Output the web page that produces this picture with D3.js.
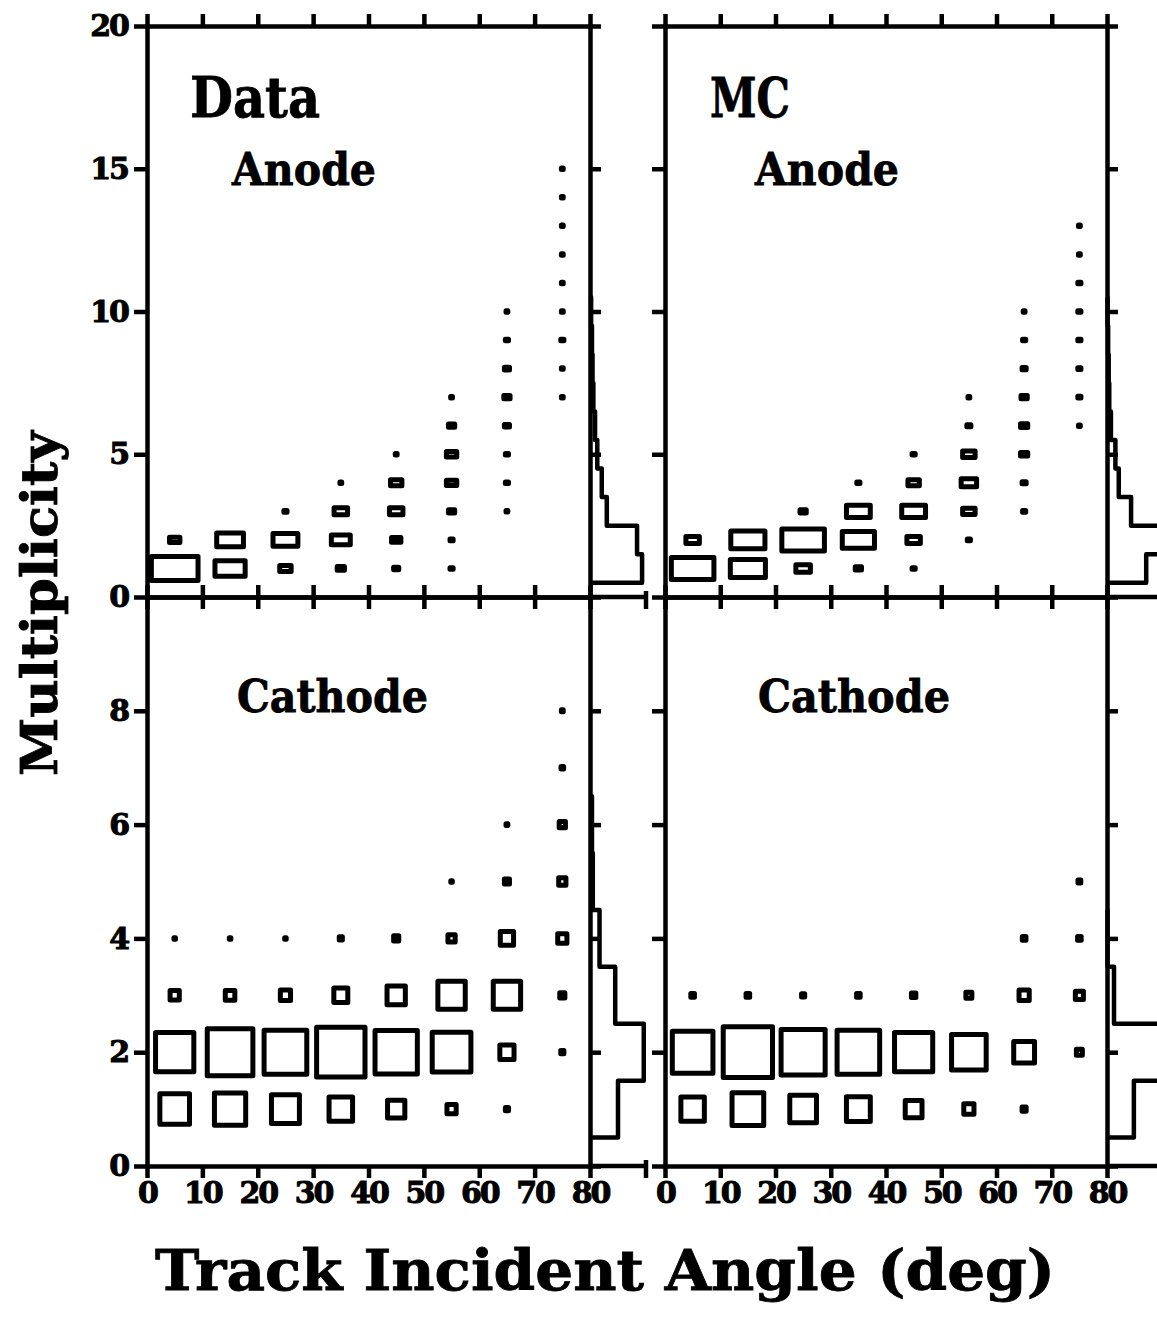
<!DOCTYPE html>
<html>
<head>
<meta charset="utf-8">
<script src="https://cdn.jsdelivr.net/npm/d3@7"></script>
<style>
  body { margin: 0; background: #fff; }
  svg { display: block; }
  text { font-family: "DejaVu Serif", serif; font-weight: bold; fill: #000; }
</style>
</head>
<body>
<svg id="chart" width="1157" height="1321"></svg>
<script>
// tick values
const angleTicks = [0, 10, 20, 30, 40, 50, 60, 70, 80];
const anodeTicks = [0, 5, 10, 15, 20];
const cathodeTicks = [0, 2, 4, 6, 8];

// cells: [angle bin centre (deg), multiplicity, content] - box area ~ content
const dataAnode = [
  [5, 1, 67], [5, 2, 3.3],
  [15, 1, 28], [15, 2, 22],
  [25, 1, 4], [25, 2, 19], [25, 3, 0.3],
  [35, 1, 1.6], [35, 2, 11], [35, 3, 5.6], [35, 4, 0.1],
  [45, 1, 0.8], [45, 2, 2.7], [45, 3, 5.6], [45, 4, 4], [45, 5, 0.1],
  [55, 1, 0.3], [55, 2, 0.3], [55, 3, 1.2], [55, 4, 3.3], [55, 5, 3.3], [55, 6, 1.2], [55, 7, 0.1],
  [65, 3, 0.1], [65, 4, 0.3], [65, 5, 0.3], [65, 6, 0.8], [65, 7, 1.2], [65, 8, 0.8], [65, 9, 0.3], [65, 10, 0.1],
  [75, 7, 0.1], [75, 8, 0.1], [75, 9, 0.3], [75, 10, 0.1], [75, 11, 0.1], [75, 12, 0.1], [75, 13, 0.1], [75, 14, 0.1], [75, 15, 0.1]
];

const mcAnode = [
  [5, 1, 56], [5, 2, 5.6],
  [15, 1, 38], [15, 2, 36],
  [25, 1, 6.5], [25, 2, 56], [25, 3, 1.2],
  [35, 1, 1.2], [35, 2, 32], [35, 3, 17.5], [35, 4, 0.3],
  [45, 1, 0.3], [45, 2, 5.6], [45, 3, 17.5], [45, 4, 4], [45, 5, 0.3],
  [55, 2, 0.3], [55, 3, 4.8], [55, 4, 7.4], [55, 5, 4.8], [55, 6, 0.5], [55, 7, 0.1],
  [65, 3, 0.3], [65, 4, 0.5], [65, 5, 1.6], [65, 6, 1.6], [65, 7, 1.2], [65, 8, 0.5], [65, 9, 0.3], [65, 10, 0.1],
  [75, 6, 0.1], [75, 7, 0.3], [75, 8, 0.3], [75, 9, 0.3], [75, 10, 0.3], [75, 11, 0.3], [75, 12, 0.1], [75, 13, 0.1]
];

const dataCathode = [
  [5, 1, 27], [15, 1, 30], [25, 1, 24], [35, 1, 17], [45, 1, 9.2], [55, 1, 2.6], [65, 1, 0.3],
  [5, 2, 45], [15, 2, 64], [25, 2, 56], [35, 2, 72], [45, 2, 55], [55, 2, 46], [65, 2, 6.2], [75, 2, 0.3],
  [5, 3, 2.6], [15, 3, 2.8], [25, 3, 3.2], [35, 3, 6], [45, 3, 10.3], [55, 3, 23], [65, 3, 23], [75, 3, 0.8],
  [5, 4, 0.05], [15, 4, 0.05], [25, 4, 0.05], [35, 4, 0.3], [45, 4, 0.8], [55, 4, 1.6], [65, 4, 5.4], [75, 4, 2.6],
  [55, 5, 0.05], [65, 5, 0.8], [75, 5, 1.6],
  [65, 6, 0.1], [75, 6, 1.2],
  [75, 7, 0.2], [75, 8, 0.1]
];

const mcCathode = [
  [5, 1, 17], [15, 1, 31], [25, 1, 22], [35, 1, 17.6], [45, 1, 8.7], [55, 1, 3.2], [65, 1, 0.5],
  [5, 2, 51], [15, 2, 75], [25, 2, 60], [35, 2, 56], [45, 2, 45], [55, 2, 37], [65, 2, 13.4], [75, 2, 1.1],
  [5, 3, 0.4], [15, 3, 0.4], [25, 3, 0.3], [35, 3, 0.4], [45, 3, 0.6], [55, 3, 1.1], [65, 3, 3.2], [75, 3, 2],
  [65, 4, 0.4], [75, 4, 0.4],
  [75, 5, 0.25]
];

// projected multiplicity histograms, multiplicity 1, 2, 3, ...
const dataAnodeHist = [93, 84, 30, 21, 13, 9, 6, 4.5, 3.5, 2];
const mcAnodeHist = [70, 100, 43, 21, 15, 7, 4, 3, 2, 1];
const dataCathodeHist = [50, 96, 45, 17, 5, 3.5];
const mcCathodeHist = [48, 98, 12.5, 1];

const svg = d3.select("#chart");
const LW = 4.5;   // frame / histogram line width
const BW = 5;     // box outline width

const xL = d3.scaleLinear().domain([0, 80]).range([147, 590]);
const xR = d3.scaleLinear().domain([0, 80]).range([665, 1107]);
const yA = d3.scaleLinear().domain([0, 20]).range([597, 26]);
const yC = d3.scaleLinear().domain([0, 10]).range([1166, 597]);
const hx = d3.scaleLinear().domain([0, 100]).range([0, 56]);
const boxSize = d3.scaleSqrt().domain([0, 100]).range([0, 1.03]);

function styleAxis(g) {
    g.select(".domain").attr("stroke-width", LW).attr("stroke-linecap", "square");
    g.selectAll(".tick line").attr("stroke-width", LW);
    g.selectAll(".tick text")
        .style("font-size", "30px")
        .style("letter-spacing", "-2px")
        .attr("stroke", "#000")
        .attr("stroke-width", 1);
    g.attr("font-family", null).attr("font-size", null);
}

function drawColumn(x, labels) {
    // top frame line
    svg.append("g").attr("transform", `translate(0,${yA(20)})`)
        .call(d3.axisTop(x).tickValues(angleTicks).tickSize(12).tickSizeOuter(0).tickFormat(""))
        .call(styleAxis);
    // shared middle line, ticks both ways
    svg.append("g").attr("transform", `translate(0,${yA(0)})`)
        .call(d3.axisBottom(x).tickValues(angleTicks).tickSize(12).tickSizeOuter(0).tickFormat(""))
        .call(styleAxis);
    svg.append("g").attr("transform", `translate(0,${yA(0)})`)
        .call(d3.axisTop(x).tickValues(angleTicks).tickSize(12).tickSizeOuter(0).tickFormat(""))
        .call(styleAxis);
    // bottom axis with labels
    svg.append("g").attr("transform", `translate(0,${yC(0)})`)
        .call(d3.axisBottom(x).tickValues(angleTicks).tickSize(12).tickSizeOuter(0).tickPadding(4))
        .call(styleAxis);

    const left = x.range()[0], right = x.range()[1];
    [[yA, anodeTicks], [yC, cathodeTicks]].forEach(([y, ticks]) => {
        const ax = d3.axisLeft(y).tickValues(ticks).tickSize(13).tickSizeOuter(0).tickPadding(6);
        if (!labels) ax.tickFormat("");
        svg.append("g").attr("transform", `translate(${left},0)`).call(ax).call(styleAxis);
        svg.append("g").attr("transform", `translate(${right},0)`)
            .call(d3.axisRight(y).tickValues(ticks).tickSize(11).tickSizeOuter(0).tickFormat(""))
            .call(styleAxis);
    });

    // extension of the angle axis under the projection histogram
    [yA(0), yC(0)].forEach(yy => {
        svg.append("line")
            .attr("x1", right).attr("x2", right + hx(100))
            .attr("y1", yy).attr("y2", yy)
            .attr("stroke", "#000").attr("stroke-width", LW);
        svg.append("line")
            .attr("x1", right + hx(100)).attr("x2", right + hx(100))
            .attr("y1", yy - 6).attr("y2", yy + 12)
            .attr("stroke", "#000").attr("stroke-width", LW);
    });
}

function drawBoxes(cells, x, y) {
    const cw = x(10) - x(0);
    const ch = y(0) - y(1);
    const w = d => Math.max(1.5, boxSize(d[2]) * cw);
    const h = d => Math.max(1.5, boxSize(d[2]) * ch);
    svg.append("g")
        .selectAll("rect")
        .data(cells)
        .join("rect")
        .attr("x", d => x(d[0]) - w(d) / 2)
        .attr("y", d => y(d[1]) - h(d) / 2)
        .attr("width", w)
        .attr("height", h)
        .attr("fill", "none")
        .attr("stroke", "#000")
        .attr("stroke-width", BW)
        .attr("stroke-linejoin", "round");
}

function drawHist(hist, x0, y) {
    const pts = [[0, 0.5]];
    hist.forEach((v, i) => {
        pts.push([v, i + 0.5], [v, i + 1.5]);
    });
    pts.push([0, hist.length + 0.5]);
    const line = d3.line()
        .x(d => x0 + hx(d[0]))
        .y(d => y(d[1]));
    svg.append("path")
        .attr("d", line(pts))
        .attr("fill", "none")
        .attr("stroke", "#000")
        .attr("stroke-width", LW)
        .attr("stroke-linejoin", "round");
}

drawColumn(xL, true);
drawColumn(xR, false);

drawBoxes(dataAnode, xL, yA);
drawBoxes(mcAnode, xR, yA);
drawBoxes(dataCathode, xL, yC);
drawBoxes(mcCathode, xR, yC);

drawHist(dataAnodeHist, xL(80), yA);
drawHist(mcAnodeHist, xR(80), yA);
drawHist(dataCathodeHist, xL(80), yC);
drawHist(mcCathodeHist, xR(80), yC);

// panel labels
function label(txt, x, y, size, len) {
    svg.append("text")
        .attr("x", x).attr("y", y)
        .attr("textLength", len)
        .attr("lengthAdjust", "spacingAndGlyphs")
        .attr("stroke", "#000")
        .attr("stroke-width", 0.8)
        .style("font-size", size + "px")
        .text(txt);
}
label("Data", 190, 117, 56, 130);
label("Anode", 232, 185, 45, 144);
label("MC", 710, 117, 54, 80);
label("Anode", 755, 185, 45, 144);
label("Cathode", 237, 712, 45, 191);
label("Cathode", 758, 712, 45, 192);

svg.append("text")
    .attr("x", 155).attr("y", 1290)
    .attr("textLength", 900)
    .attr("lengthAdjust", "spacingAndGlyphs")
    .attr("stroke", "#000")
    .attr("stroke-width", 0.8)
    .style("font-size", "56px")
    .text("Track Incident Angle (deg)");

svg.append("text")
    .attr("transform", "translate(57,776) rotate(-90)")
    .attr("textLength", 345)
    .attr("lengthAdjust", "spacingAndGlyphs")
    .attr("stroke", "#000")
    .attr("stroke-width", 0.8)
    .style("font-size", "50px")
    .text("Multiplicity");
</script>
</body>
</html>
